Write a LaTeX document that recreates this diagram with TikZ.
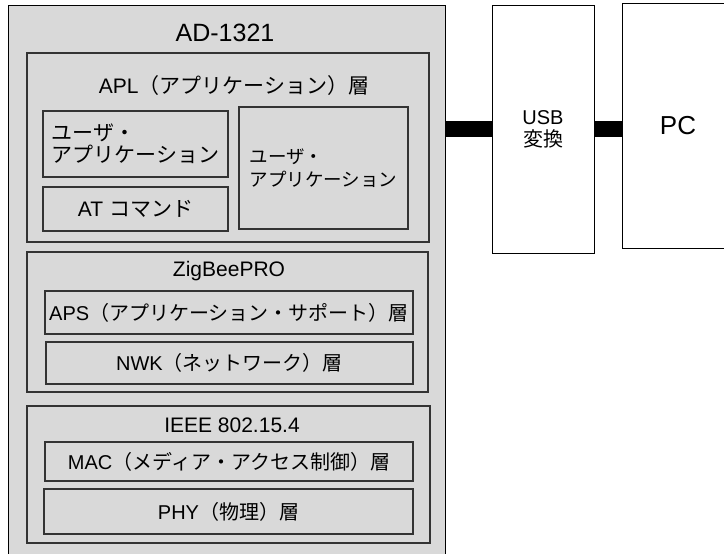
\documentclass[tikz,border=0pt]{standalone}
\usepackage{fontspec}
\setmainfont{Liberation Sans}
\newfontfamily\jp{Noto Sans CJK JP}
\usetikzlibrary{positioning}

\tikzset{
  layerbox/.style={draw=black!80, line width=1.2pt, fill=gray!30, inner sep=0pt,
    font=\fontsize{20}{22}\selectfont},
  devbox/.style={draw=black, line width=0.9pt, inner sep=0pt,
    font=\fontsize{20}{22}\selectfont},
  bus/.style={line width=16pt, black},
  title/.style={font=\fontsize{20}{22}\selectfont, inner sep=0pt}
}

\begin{document}
\begin{tikzpicture}[x=1pt, y=-1pt]
    \useasboundingbox (0,0) rectangle (724,554);

    % AD-1321
    \node[devbox, fill=gray!30, minimum width=437pt, minimum height=552pt] (ad) at (226.5,281) {};
    \node[title, font=\fontsize{25}{27}\selectfont] (adlabel) at (225,33) {AD-1321};

    % APL
    \node[layerbox, minimum width=402pt, minimum height=189pt] (apl) at (228,147.5) {};
    \node[title, font=\fontsize{21}{23}\selectfont] (apllabel) at (234,86) {APL{\jp（アプリケーション）層}};
    \node[layerbox, align=left, font=\fontsize{21}{22}\selectfont\jp, minimum width=185pt, minimum height=66pt] (user1) at (135.5,144) {ユーザ・\\アプリケーション};
    \node[layerbox, font=\fontsize{21}{23}\selectfont, minimum width=185pt, minimum height=44pt] (atcmd) at (135.5,209) {AT {\jp コマンド}};
    \node[layerbox, align=left, font=\fontsize{18.5}{23}\selectfont\jp, minimum width=169pt, minimum height=122pt] (user2) at (323.5,168) {ユーザ・\\アプリケーション};

    % ZigBeePRO
    \node[layerbox, minimum width=401pt, minimum height=140pt] (zb) at (227.5,322) {};
    \node[title, font=\fontsize{21}{23}\selectfont] (zblabel) at (229,271) {ZigBeePRO};
    \node[layerbox, minimum width=368pt, minimum height=43pt] (aps) at (229,312.5) {APS{\jp（アプリケーション・サポート）層}};
    \node[layerbox, minimum width=367pt, minimum height=42pt] (nwk) at (229.5,363) {NWK{\jp（ネットワーク）層}};

    % IEEE 802.15.4
    \node[layerbox, minimum width=403pt, minimum height=137pt] (ieee) at (228.5,474.5) {};
    \node[title, font=\fontsize{21}{23}\selectfont] (ieeelabel) at (232,425) {IEEE 802.15.4};
    \node[layerbox, minimum width=368pt, minimum height=39pt] (mac) at (229,461.5) {MAC{\jp（メディア・アクセス制御）層}};
    \node[layerbox, minimum width=369pt, minimum height=45pt] (phy) at (228.5,511.5) {PHY{\jp（物理）層}};

    % USB / PC
    \node[devbox, align=center, minimum width=102pt, minimum height=248pt] (usb) at (543,129) {USB\\{\jp 変換}};
    \node[devbox, font=\fontsize{26}{28}\selectfont, minimum width=112pt, minimum height=245pt] (pc) at (678,125.5) {PC};

    \draw[bus] (usb.west -| ad.east) -- (usb.west);
    \draw[bus] (usb.east) -- (usb.east -| pc.west);
\end{tikzpicture}
\end{document}
